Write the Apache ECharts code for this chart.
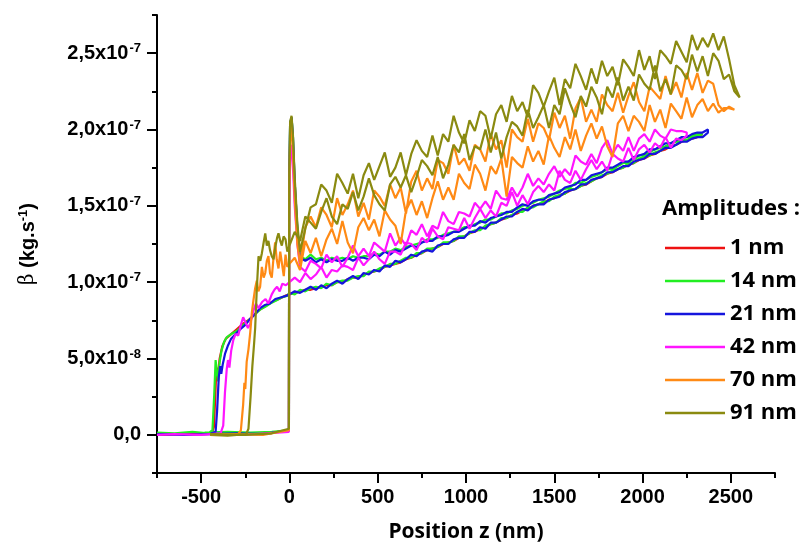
<!DOCTYPE html>
<html><head><meta charset="utf-8">
<script src="https://cdn.jsdelivr.net/npm/echarts@6/dist/echarts.min.js"></script>
<style>html,body{margin:0;padding:0;background:#fff}#c{width:810px;height:549px}</style>
</head><body><div id="c"></div>
<script>
// ---- axis ticks (beta in units of 1e-8 kg/s) ----
const xTicks = [-500, 0, 500, 1000, 1500, 2000, 2500];
const xMinorTicks = [-750, -250, 250, 750, 1250, 1750, 2250, 2750];
const yTicks = [0, 5, 10, 15, 20, 25];
const yMinorTicks = [-2.5, 2.5, 7.5, 12.5, 17.5, 22.5, 27.5];

const seriesNames = ['1 nm', '14 nm', '21 nm', '42 nm', '70 nm', '91 nm'];
const seriesColors = ['#ee1111', '#22ee22', '#1515dd', '#ff15ff', '#ff8a15', '#8a8a10'];

// sampled curves: "Up" = approach branch sampled every Z_STEP nm from z = 0,
// "Down" = retract branch sampled every Z_STEP nm from z = DOWN_START
const Z_STEP = 30;
const DOWN_START = 60;

// ---- 1 nm (red) ----
const redPre = [[-750,0.0],[-600,0.05],[-440,0.1],[-428,0.5],[-420,2.5],[-414,4.4],[-405,4.0],[-395,5.0],[-380,5.8],[-360,6.3],[-330,6.6],[-300,6.9],[-260,7.3],[-222,7.6],[-180,8.1],[-140,8.4],[-100,8.7],[-60,8.9],[-25,9.1]];
const redUp = [9.2,9.3,9.4,9.5,9.5,9.6,9.7,9.8,9.8,10.0,10.0,10.2,10.3,10.3,10.5,10.6,10.7,10.8,11.0,11.1,11.2,11.3,11.5,11.6,11.8,11.9,12.1,12.2,12.3,12.5,12.6,12.7,12.9,13.0,13.2,13.3,13.5,13.6,13.8,13.9,14.1,14.2,14.4,14.5,14.7,14.8,15.0,15.1,15.2,15.4,15.5,15.7,15.8,16.0,16.1,16.3,16.4,16.6,16.8,16.9,17.1,17.2,17.4,17.5,17.7,17.8,18.0,18.1,18.3,18.4,18.6,18.7,18.9,19.0,19.2,19.3,19.4,19.5,19.7];

// ---- 14 nm (green) ----
const greenPre = [[-750,0.15],[-650,0.1],[-550,0.2],[-460,0.1],[-436,0.3],[-426,2.6],[-418,4.9],[-411,4.1],[-404,3.5],[-396,4.7],[-385,5.5],[-370,6.1],[-354,6.4],[-330,6.6],[-298,6.8],[-260,7.2],[-222,7.6],[-195,7.9],[-166,8.2],[-135,8.4],[-109,8.6],[-75,8.8],[-45,9.0],[-15,9.1]];
const greenUp = [9.3,9.2,9.5,9.4,9.6,9.7,9.6,9.9,9.8,10.0,10.1,10.1,10.3,10.4,10.4,10.7,10.7,10.9,11.0,11.2,11.2,11.4,11.6,11.6,11.9,11.9,12.2,12.2,12.3,12.6,12.6,12.7,13.0,13.0,13.2,13.4,13.4,13.7,13.8,13.9,14.2,14.2,14.4,14.6,14.6,14.9,14.9,15.1,15.3,15.3,15.6,15.7,15.8,16.1,16.1,16.3,16.5,16.6,16.8,17.0,17.1,17.3,17.4,17.5,17.8,17.8,18.1,18.2,18.3,18.5,18.6,18.8,18.9,19.0,19.3,19.3,19.5,19.6,19.7];
const greenDown = [11.7,11.5,11.8,11.5,11.6,11.4,11.6,11.5,11.6,11.5,11.7,11.6,11.7,11.7,11.9,11.8,12.0,12.0,12.2,12.1,12.3,12.4,12.5,12.6,12.8,12.8,12.9,13.1,13.2,13.3,13.4,13.6,13.6,13.8,13.9,14.1,14.1,14.3,14.5,14.5,14.7,14.8,15.0,15.1,15.2,15.4,15.5,15.6,15.8,16.0,16.1,16.2,16.5,16.5,16.7,16.9,17.0,17.2,17.4,17.4,17.6,17.8,17.9,18.0,18.3,18.3,18.5,18.7,18.8,18.9,19.1,19.2,19.4,19.5,19.6,19.7,19.8];
const greenTip = [[45,13.5],[30,16.5],[20,19.5],[12,20.8],[4,20.4],[-1,17.0],[-3,0.3],[-100,0.2],[-220,0.15],[-350,0.2],[-480,0.15]];

// ---- 21 nm (blue) ----
const bluePre = [[-750,0.05],[-600,0.0],[-450,0.05],[-418,0.2],[-410,1.5],[-400,3.8],[-392,4.5],[-386,4.0],[-378,4.6],[-365,5.3],[-350,5.8],[-330,6.3],[-305,6.6],[-280,6.9],[-250,7.2],[-222,7.6],[-195,7.9],[-166,8.3],[-140,8.5],[-110,8.6],[-80,8.9],[-50,9.0],[-20,9.1]];
const blueUp = [9.2,9.4,9.3,9.5,9.7,9.5,9.8,9.6,9.9,10.1,9.9,10.2,10.4,10.2,10.6,10.5,10.8,10.7,11.1,11.0,11.4,11.3,11.5,11.8,11.7,12.0,12.1,12.0,12.4,12.5,12.5,12.8,12.9,12.9,13.3,13.3,13.6,13.5,13.9,13.9,14.1,14.3,14.3,14.6,14.8,14.7,15.0,15.1,15.1,15.4,15.5,15.6,15.9,16.0,16.1,16.4,16.4,16.7,16.8,16.9,17.2,17.2,17.4,17.6,17.6,17.9,18.0,18.1,18.4,18.4,18.6,18.8,18.8,19.0,19.2,19.2,19.4,19.5,19.5,19.8];
const blueDown = [11.6,11.4,11.6,11.3,11.5,11.3,11.5,11.4,11.4,11.6,11.4,11.6,11.6,11.5,11.8,11.7,12.0,11.8,12.1,12.0,12.2,12.4,12.3,12.6,12.7,12.7,13.0,13.0,13.1,13.3,13.3,13.5,13.7,13.7,14.0,13.9,14.2,14.3,14.4,14.6,14.6,14.9,15.1,15.0,15.3,15.4,15.4,15.7,15.8,15.9,16.2,16.3,16.4,16.7,16.7,17.0,17.1,17.2,17.5,17.5,17.7,17.9,17.9,18.2,18.3,18.4,18.7,18.7,18.9,19.1,19.1,19.3,19.5,19.5,19.7,19.8,19.8,20.0];
const blueTip = [[45,13.5],[30,16.5],[20,19.5],[12,20.8],[4,20.4],[-1,17.0],[-3,0.3],[-150,0.05],[-300,0.1],[-450,0.05]];

// ---- 42 nm (magenta) ----
const magentaPre = [[-750,0.0],[-650,0.05],[-500,0.0],[-390,0.1],[-375,0.6],[-365,2.8],[-355,4.3],[-348,4.9],[-340,4.4],[-330,5.5],[-318,6.2],[-305,6.6],[-290,6.5],[-275,7.2],[-262,7.7],[-250,7.4],[-235,7.0],[-222,7.3],[-205,8.1],[-190,8.6],[-175,8.3],[-155,8.7],[-135,8.9],[-120,8.6],[-100,9.2],[-85,9.5],[-70,9.7],[-55,9.4],[-40,9.9],[-20,9.8]];
const magentaUp = [10.0,10.3,10.0,10.6,10.2,10.5,11.0,10.3,10.8,10.7,11.1,11.0,10.8,11.6,11.1,11.5,12.0,11.5,11.2,12.0,12.0,11.8,12.6,12.5,12.1,12.9,12.6,13.5,13.0,12.8,13.6,13.5,13.4,14.2,13.5,14.2,14.8,14.2,14.7,14.3,15.2,15.0,15.9,15.0,15.7,15.1,15.9,16.3,15.9,16.4,16.0,17.3,16.7,16.5,17.3,16.7,17.4,18.0,17.4,17.9,17.3,18.4,18.1,17.9,18.8,18.0,18.7,19.0,18.5,19.1,18.8,19.5,18.8,19.4,19.3,19.6];
const magentaDown = [11.0,10.7,11.4,11.2,10.9,11.8,11.3,11.7,11.0,11.6,12.4,11.7,12.2,11.7,12.6,12.3,12.0,13.2,12.4,12.9,12.4,13.4,13.1,13.8,13.0,13.7,13.5,14.6,14.0,13.8,14.6,14.5,14.3,15.2,14.8,15.3,14.8,16.0,15.5,15.4,16.2,15.6,16.2,17.1,16.3,16.8,16.4,17.1,17.6,16.9,17.4,17.0,18.3,17.9,17.7,18.4,17.8,18.8,19.3,18.4,19.0,18.6,19.5,18.6,19.4,19.7,19.2,20.0,19.6,19.4,20.0,19.9,19.9,19.8];
const magentaTip = [[45,12.5],[30,15.0],[20,17.5],[12,19.0],[5,18.5],[-1,15.0],[-3,0.2],[-200,0.05],[-400,0.0]];

// ---- 70 nm (orange) ----
const orangePre = [[-450,0.0],[-380,0.05],[-290,0.05],[-275,0.3],[-262,2.0],[-255,3.4],[-250,3.0],[-242,4.8],[-232,5.6],[-222,6.7],[-213,8.0],[-204,8.8],[-194,9.6],[-185,10.1],[-176,9.4],[-166,9.7],[-156,11.0],[-146,10.3],[-137,10.6],[-128,11.4],[-119,11.7],[-110,10.6],[-100,10.3],[-90,11.6],[-81,12.6],[-72,11.5],[-62,10.9],[-52,12.0],[-42,11.2],[-32,10.4],[-22,11.8],[-12,11.0]];
const orangeUp = [11.2,11.6,10.8,12.7,11.9,12.9,11.7,12.8,13.5,12.5,14.0,12.6,11.9,13.6,14.2,13.4,14.1,13.0,14.7,14.1,13.7,12.5,14.7,15.4,14.4,15.3,14.2,15.5,16.6,15.4,16.2,15.4,17.1,16.5,16.1,17.7,17.1,16.0,17.6,17.1,18.1,15.6,18.2,17.8,17.5,18.9,17.9,18.6,17.7,19.6,18.8,18.2,19.5,18.7,20.0,18.6,19.6,20.4,19.4,20.2,18.9,18.2,20.4,20.9,19.9,20.9,20.5,19.9,21.6,20.5,21.3,20.1,21.7,21.2,20.7,22.1,20.8,21.6,22.0,21.2,21.7,21.1,21.4,21.4,21.3];
const orangeDown = [11.2,13.6,14.3,13.6,14.9,14.4,13.6,15.5,14.4,15.1,16.0,14.3,15.2,14.1,16.0,15.6,15.0,16.4,15.5,16.2,14.5,16.6,17.3,16.0,16.8,16.1,18.0,17.8,17.1,19.0,17.7,18.1,17.3,19.0,18.7,17.9,19.7,18.7,19.3,17.5,20.0,19.5,19.2,20.7,19.2,20.4,20.1,19.3,21.1,20.1,20.9,19.4,21.4,22.1,20.5,21.3,20.5,22.3,21.6,21.2,22.4,21.1,22.2,23.1,21.8,21.2,22.8,22.4,22.0,23.5,22.3,23.1,22.1,23.7,22.6,23.7,22.4,23.2,23.0,21.6,21.2,21.5,21.3];
const orangeTip = [[45,12.5],[30,15.5],[20,18.5],[12,20.3],[5,20.0],[-1,16.0],[-3,0.3],[-150,0.0],[-300,0.05],[-450,0.0]];

// ---- 91 nm (olive) ----
const olivePre = [[-450,0.0],[-350,-0.05],[-245,0.05],[-232,0.4],[-220,2.5],[-210,4.5],[-200,6.0],[-194,7.0],[-185,9.5],[-175,11.7],[-165,11.4],[-156,11.9],[-146,12.6],[-137,13.2],[-128,12.4],[-119,12.7],[-110,12.1],[-100,11.7],[-90,11.5],[-80,12.3],[-70,12.9],[-62,13.2],[-52,12.7],[-43,12.4],[-33,13.0],[-22,12.8],[-12,12.0]];
const oliveUp = [12.4,13.3,12.7,14.3,13.9,13.5,14.6,15.5,14.3,13.8,15.1,14.8,15.9,14.7,15.6,16.8,15.7,15.1,14.7,16.4,16.9,16.2,17.0,15.9,16.9,18.0,17.6,17.0,18.2,16.8,17.7,19.0,18.5,19.7,18.0,18.9,18.7,20.0,18.5,19.8,18.1,19.5,20.5,20.2,19.6,21.3,20.1,20.8,21.6,20.1,21.6,21.0,22.7,21.7,20.8,22.2,21.5,22.8,22.1,21.0,22.8,22.1,23.4,21.9,22.8,21.9,23.6,23.0,22.6,24.2,22.5,23.3,22.3,24.2,23.9,23.3,24.9,23.8,24.8,23.5,25.0,24.5,23.3,23.6,22.5,22.1];
const oliveDown = [12.0,13.5,14.9,15.1,16.4,16.0,15.2,17.1,16.5,15.8,17.1,15.5,17.0,17.8,16.7,17.6,18.5,16.9,17.5,18.5,17.0,18.4,19.3,18.6,18.2,19.6,18.3,19.7,19.2,20.9,19.8,19.1,20.6,19.9,21.2,20.9,19.4,21.0,21.6,20.5,22.2,21.2,21.8,20.8,22.9,22.4,21.5,22.5,23.4,21.6,23.3,22.7,24.3,23.5,22.6,24.0,23.0,24.5,23.5,24.1,22.9,24.6,24.1,23.5,25.2,23.9,24.8,23.3,25.2,24.8,24.3,25.8,25.1,24.4,26.2,25.2,26.0,25.4,26.3,25.2,26.1,24.6,22.9,22.1];
const oliveTip = [[45,13.8],[30,16.8],[20,19.6],[12,20.9],[4,20.5],[-1,17.0],[-3,0.4],[-100,0.1],[-250,0.0],[-450,0.05]];

function buildCurve(pre, up, down, tip) {
  const d = pre.map(p => [p[0], p[1]]);
  up.forEach((v, i) => d.push([i * Z_STEP, v]));
  if (down) for (let i = down.length - 1; i >= 0; i--) d.push([DOWN_START + i * Z_STEP, down[i]]);
  if (tip) tip.forEach(p => d.push([p[0], p[1]]));
  return d;
}

const curves = [
  buildCurve(redPre, redUp, null, null),
  buildCurve(greenPre, greenUp, greenDown, greenTip),
  buildCurve(bluePre, blueUp, blueDown, blueTip),
  buildCurve(magentaPre, magentaUp, magentaDown, magentaTip),
  buildCurve(orangePre, orangeUp, orangeDown, orangeTip),
  buildCurve(olivePre, oliveUp, oliveDown, oliveTip)
];

const labelFont = 'Liberation Sans';
const titleFont = 'Open Sans';

function yFmt(v) {
  if (Math.abs(v) < 1e-9) return '0,0';
  let m = v, e = -8;
  if (v >= 10) { m = v / 10; e = -7; }
  return m.toFixed(1).replace('.', ',') + 'x10{sup|' + e + '}';
}

const chart = echarts.init(document.getElementById('c'), null, {renderer: 'canvas'});
chart.setOption({
  animation: false,
  backgroundColor: '#fff',
  grid: {left: 157, right: 35, top: 15, bottom: 76, outerBoundsMode: 'none'},
  xAxis: [{
    type: 'value', min: -750, max: 2750, position: 'bottom',
    axisLine: {show: true, onZero: false, lineStyle: {color: '#000', width: 2}},
    axisTick: {show: true, customValues: xTicks, length: 10, lineStyle: {color: '#000', width: 2}},
    axisLabel: {customValues: xTicks, formatter: v => String(v), color: '#000', fontFamily: labelFont, fontWeight: 'bold', fontSize: 20, margin: 14},
    splitLine: {show: false},
    name: 'Position z (nm)', nameLocation: 'middle', nameGap: 49,
    nameTextStyle: {color: '#000', fontFamily: titleFont, fontWeight: 'bold', fontSize: 21}
  }, {
    type: 'value', min: -750, max: 2750, position: 'bottom',
    axisLine: {show: false, onZero: false},
    axisTick: {show: true, customValues: xMinorTicks, length: 5, lineStyle: {color: '#000', width: 2}},
    axisLabel: {show: false}, splitLine: {show: false}
  }],
  yAxis: [{
    type: 'value', min: -2.5, max: 27.5, position: 'left',
    axisLine: {show: true, onZero: false, lineStyle: {color: '#000', width: 2}},
    axisTick: {show: true, customValues: yTicks, length: 10, lineStyle: {color: '#000', width: 2}},
    axisLabel: {customValues: yTicks, formatter: yFmt, color: '#000', fontFamily: labelFont, fontWeight: 'bold', fontSize: 20, margin: 16,
      rich: {sup: {fontFamily: labelFont, fontWeight: 'bold', fontSize: 13, color: '#000', verticalAlign: 'top', padding: [0, 0, 9, 1]}}},
    splitLine: {show: false},
    name: '{b|β} (kg.s{sup|-1})', nameLocation: 'middle', nameGap: 118, nameRotate: 90,
    nameTextStyle: {color: '#000', fontFamily: labelFont, fontWeight: 'bold', fontSize: 20,
      rich: {b: {fontFamily: 'DejaVu Serif', fontWeight: 'normal', fontSize: 20, color: '#000'},
             sup: {fontFamily: labelFont, fontWeight: 'bold', fontSize: 13, color: '#000', verticalAlign: 'top', padding: [0, 0, 9, 0]}}}
  }, {
    type: 'value', min: -2.5, max: 27.5, position: 'left',
    axisLine: {show: false, onZero: false},
    axisTick: {show: true, customValues: yMinorTicks, length: 5, lineStyle: {color: '#000', width: 2}},
    axisLabel: {show: false}, splitLine: {show: false}
  }],
  legend: {
    orient: 'vertical', left: 660, top: 232, icon: 'rect', itemWidth: 60, itemHeight: 2.5, itemGap: 11,
    data: seriesNames,
    textStyle: {color: '#000', fontFamily: titleFont, fontWeight: 'bold', fontSize: 22, lineHeight: 21}
  },
  graphic: [{
    type: 'text', left: 662, top: 198,
    style: {text: 'Amplitudes :', font: 'bold 22px "Open Sans"', fill: '#000'}
  }],
  series: curves.map((d, i) => ({
    name: seriesNames[i], type: 'line', data: d, xAxisIndex: 0, yAxisIndex: 0,
    showSymbol: false, symbol: 'none', smooth: false,
    color: seriesColors[i],
    lineStyle: {color: seriesColors[i], width: 2.2},
    emphasis: {disabled: true}
  }))
});
</script>
</body></html>
